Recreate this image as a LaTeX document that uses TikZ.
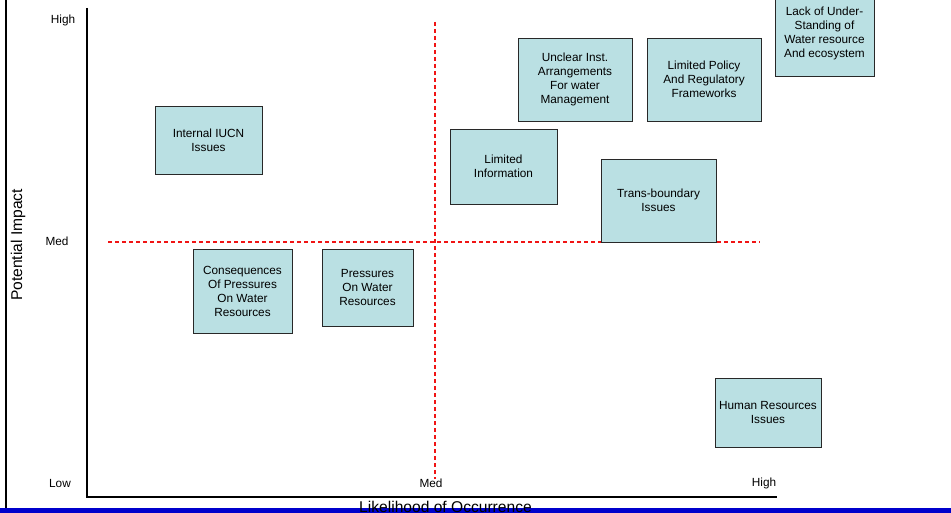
\documentclass[tikz,border=0pt]{standalone}
\usepackage{fontspec}
\setmainfont{Liberation Sans}
\usepackage{tikz}
\definecolor{Teal10}{RGB}{186, 224, 227}
\definecolor{Rosso}{RGB}{240, 20, 20}
\definecolor{Blue80}{RGB}{0, 0, 204}
\definecolor{Grey80}{RGB}{40, 40, 40}
\usetikzlibrary{positioning}
\tikzset{
    rischio/.style={draw=Grey80, fill=Teal10, align=center, inner sep=2pt, line width=0.9pt},
    soglia/.style={color=Rosso, dash pattern=on 4pt off 3pt, line width=1.1pt},
    asse/.style={line width=1.2pt},
    titolo asse/.style={font=\fontsize{15.6}{18}\selectfont, inner sep=0pt}
}

\begin{document}
\begin{tikzpicture}[
    x=1pt, y=-1pt,
    font=\fontsize{11.8}{14}\selectfont,
    livello/.style = {inner sep=0pt}
    ]
    \useasboundingbox (0,0) rectangle (951,513);

    %%% Frame
    \draw[line width=2.5pt] (6,0) -- (6,508);
    \fill[Blue80] (0,508) rectangle (951,513);

    %%% Axis
    \draw[asse] (87,8) -- (87,497) -- (777,497);
    \node[titolo asse, rotate=90] (yaxis) at (18,245) {Potential Impact};
    \node[titolo asse, anchor=base] (xaxis) at (445.5,512.5) {Likelihood of Occurrence};

    % levels
    \node[livello] (yhigh) at (63,20)  {High};
    \node[livello] (ymed)  at (57,241) {Med};
    \node[livello] (ylow)  at (60,483) {Low};
    \node[livello] (xmed)  at (431,483) {Med};
    \node[livello] (xhigh) at (764,483) {High};

    % thresholds
    \draw[soglia] (108,242) -- (760,242);
    \draw[soglia] (435,22) -- (435,479);

    %%% Risks
    \node[rischio, minimum width=107pt, minimum height=68pt] (iucn)      at (208.5,140)   {Internal IUCN\\Issues};
    \node[rischio, minimum width=99pt,  minimum height=84pt] (conseq)    at (242.5,291)   {Consequences\\Of Pressures\\On Water\\Resources};
    \node[rischio, minimum width=91pt,  minimum height=77pt] (pressures) at (367.5,287.5) {Pressures\\On Water\\Resources};
    \node[rischio, minimum width=107pt, minimum height=75pt] (info)      at (503.5,166.5) {Limited\\Information};
    \node[rischio, minimum width=114pt, minimum height=83pt] (unclear)   at (575,79.5)    {Unclear Inst.\\Arrangements\\For water\\Management};
    \node[rischio, minimum width=114pt, minimum height=83pt] (policy)    at (704,79.5)    {Limited Policy\\And Regulatory\\Frameworks};
    \node[rischio, minimum width=115pt, minimum height=83pt] (trans)     at (658.5,200.5) {Trans-boundary\\Issues};
    \node[rischio, minimum width=99pt,  minimum height=86pt] (lack)      at (824.5,33)    {Lack of Under-\\Standing of\\Water resource\\And ecosystem};
    \node[rischio, minimum width=106pt, minimum height=69pt] (human)     at (768,412.5)   {Human Resources\\Issues};
\end{tikzpicture}
\end{document}
